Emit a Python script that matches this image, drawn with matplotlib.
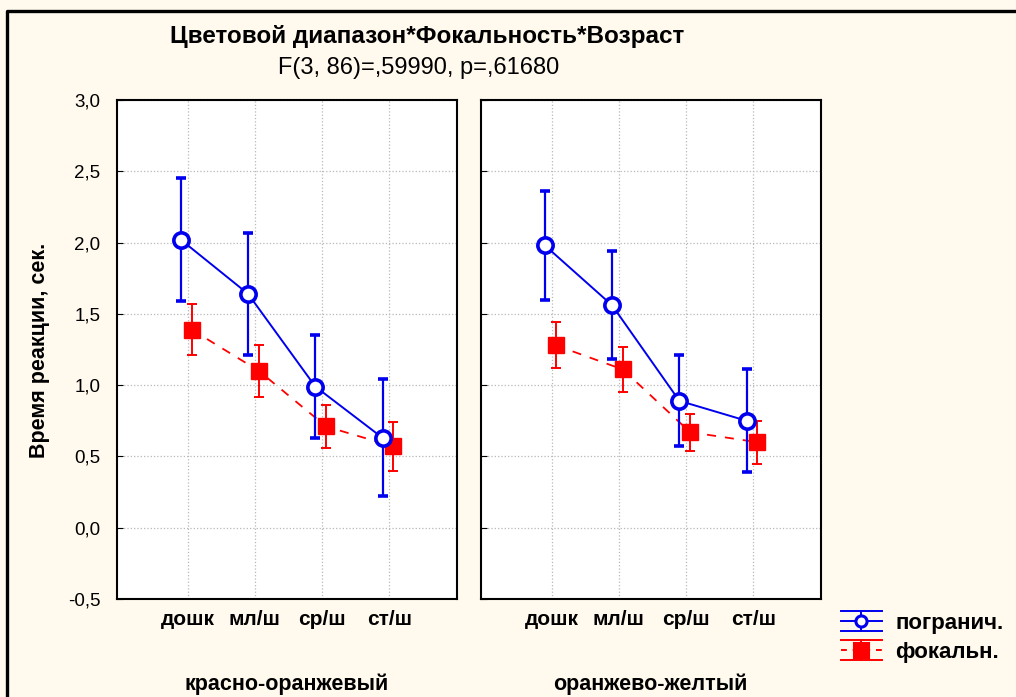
import numpy as np
import matplotlib.pyplot as plt
from matplotlib.lines import Line2D
from matplotlib.legend_handler import HandlerBase

plt.rcParams['font.family'] = ['Liberation Sans', 'DejaVu Sans']

# возрастные группы и цветовые диапазоны
vozrast = ['дошк', 'мл/ш', 'ср/ш', 'ст/ш']
diapazony = ['красно-оранжевый', 'оранжево-желтый']

# средние и доверительные интервалы (погранич. / фокальн.)
pogran_sred = [[2.02, 1.64, 0.99, 0.63], [1.98, 1.56, 0.89, 0.75]]
pogran_ci = [[0.43, 0.43, 0.36, 0.41], [0.38, 0.38, 0.32, 0.36]]
fokal_sred = [[1.39, 1.10, 0.71, 0.57], [1.28, 1.11, 0.67, 0.60]]
fokal_ci = [[0.18, 0.18, 0.15, 0.17], [0.16, 0.16, 0.13, 0.15]]

yticks = [-0.5, 0.0, 0.5, 1.0, 1.5, 2.0, 2.5, 3.0]

fon = '#fff9ee'
fig = plt.figure(figsize=(10.16, 6.97), dpi=100, facecolor=fon)

# рамка вокруг графика
fig.add_artist(Line2D([6.5 / 1016, 6.5 / 1016, 1.0], [0.0, 1 - 10.5 / 697, 1 - 10.5 / 697],
                      transform=fig.transFigure, color='black', lw=2.4))

fig.text(0.42, 1 - 37 / 697, 'Цветовой диапазон*Фокальность*Возраст',
         ha='center', va='center', fontsize=17.5, fontweight='bold')
fig.text(0.412, 1 - 68 / 697, 'F(3, 86)=,59990, p=,61680',
         ha='center', va='center', fontsize=17)
fig.text(40 / 1016, 1 - 350 / 697, 'Время реакции, сек.', rotation=90,
         ha='center', va='center', fontsize=15.5, fontweight='bold')

x = np.arange(len(vozrast))
lefts = [117 / 1016, 481 / 1016]
for k in range(2):
    ax = fig.add_axes([lefts[k], 0.1406, 0.3342, 0.7159], facecolor='white')
    ax.errorbar(x - 0.1, pogran_sred[k], yerr=pogran_ci[k], color='#0000ee', lw=1.4,
                marker='o', ms=11, mfc='white', mec='#0000ee', mew=2.6,
                capsize=3.5, capthick=1.4, elinewidth=1.6, zorder=4)
    ax.errorbar(x + 0.06, fokal_sred[k], yerr=fokal_ci[k], color='#ff0000', lw=1.3,
                ls=(0, (5, 5)), marker='s', ms=11, mfc='#ff0000', mec='#ff0000',
                capsize=3.5, capthick=1.4, elinewidth=1.4, zorder=3)
    ax.set_xlim(-1.05, 4.0)
    ax.set_ylim(-0.5, 3.0)
    ax.set_xticks(x)
    ax.set_xticklabels(vozrast, fontsize=15, fontweight='bold')
    ax.set_yticks(yticks)
    if k == 0:
        ax.set_yticklabels([f'{v:.1f}'.replace('.', ',') for v in yticks], fontsize=13.5)
    else:
        ax.set_yticklabels([])
    ax.tick_params(axis='y', direction='in', length=4, pad=12)
    ax.tick_params(axis='x', length=0, pad=8)
    ax.grid(True, color='#b8b8b8', ls=':', lw=0.9)
    for s in ax.spines.values():
        s.set_linewidth(1.5)
    ax.text(0.5, -0.17, diapazony[k], transform=ax.transAxes, ha='center', va='center',
            fontsize=15.5, fontweight='bold')


class HandlerStat(HandlerBase):
    def create_artists(self, legend, orig, xd, yd, w, h, fs, trans):
        c, ls, mk, mfc, ms = orig
        cy = yd + h / 2
        d = h * 0.62
        arts = [Line2D([xd, xd + w], [cy, cy], color=c, ls=ls, lw=1.4),
                Line2D([xd, xd + w], [cy + d, cy + d], color=c, lw=1.4),
                Line2D([xd, xd + w], [cy - d, cy - d], color=c, lw=1.4),
                Line2D([xd + w / 2] * 2, [cy - d, cy + d], color=c, lw=1.4),
                Line2D([xd + w / 2], [cy], color=c, marker=mk, ms=ms, mfc=mfc, mec=c, mew=2.2)]
        for a in arts:
            a.set_transform(trans)
        return arts


h1 = ('#0000ee', '-', 'o', 'white', 8)
h2 = ('#ff0000', (0, (3, 3)), 's', '#ff0000', 9.5)
fig.legend([h1, h2], ['погранич.', 'фокальн.'], handler_map={tuple: HandlerStat()},
           loc='upper left', bbox_to_anchor=(832 / 1016, 1 - 604 / 697), frameon=False,
           prop={'size': 16, 'weight': 'bold'}, handlelength=1.85, handletextpad=0.6,
           labelspacing=0.35, borderaxespad=0)

fig.savefig('out.png', dpi=100, facecolor=fon)
